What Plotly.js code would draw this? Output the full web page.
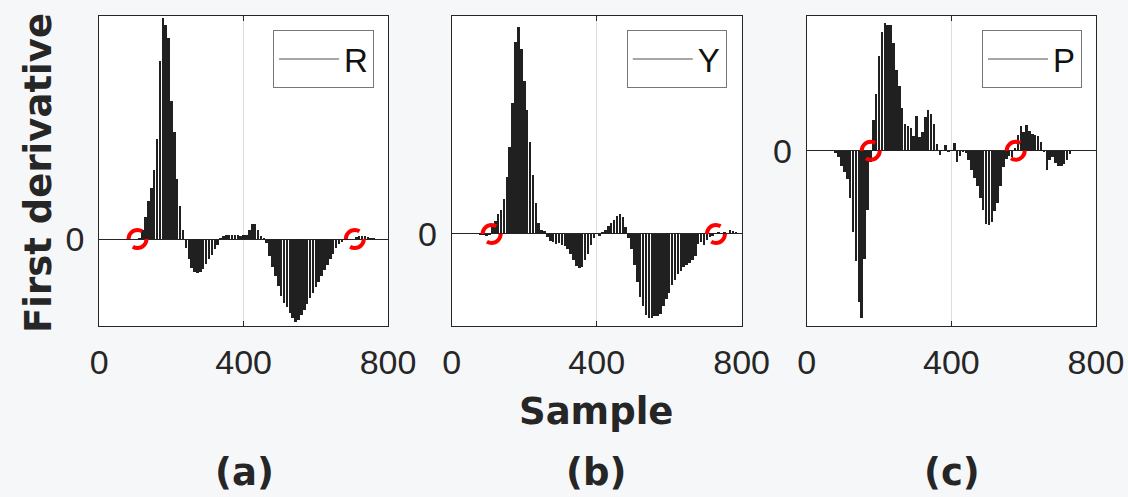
<!DOCTYPE html>
<html>
<head>
<meta charset="utf-8">
<script src="https://cdn.plot.ly/plotly-3.0.1.min.js"></script>
<style>
html,body{margin:0;padding:0;background:#f6f7f9;}
#chart{width:1128px;height:497px;}
</style>
</head>
<body>
<div id="chart"></div>
<script>
// Sample index (x axis)
const samples = [0,8,16,24,32,40,48,56,64,72,80,88,96,104,112,120,128,136,144,152,160,168,176,184,192,200,208,216,224,232,240,248,256,264,272,280,288,296,304,312,320,328,336,344,352,360,368,376,384,392,400,408,416,424,432,440,448,456,464,472,480,488,496,504,512,520,528,536,544,552,560,568,576,584,592,600,608,616,624,632,640,648,656,664,672,680,688,696,704,712,720,728,736,744,752,760,768,776,784,792];

// First derivative, panel (a) R
const derivR = [0,0,0,0.1,0,0,-0.1,0,0,-0.2,-0.2,-0.4,-0.6,-0.3,0.6,4,10,17,23,31,45,80,99,96,90,62,48,27,15,4,-4,-9,-13,-15,-15.3,-14.8,-13.5,-11,-9,-7,-4.5,-2.5,0.6,1.5,1.8,1.8,2,1.8,1.7,1.5,1.8,2,4,6.8,6.8,4,1.5,0.3,-2,-7.8,-12.5,-16.5,-21,-25.5,-28.5,-30.5,-33,-35.5,-37,-36.5,-34,-32,-29,-26.5,-24,-21.5,-19.3,-16.5,-14,-11.5,-9,-6.5,-4,-2.2,-1.2,-0.6,-0.3,-0.2,0.2,0.8,1.2,1.5,1.3,1,0.6,0.4,0.2,0.1,0,0];

// First derivative, panel (b) Y
const derivY = [0,0,0,0.1,0,0,-0.1,0,0,0,-0.3,-0.5,-0.8,-0.4,3,6,9,11,16,26,40,60,88,95,85,70,57,42,27,14,5,2,1.5,-1.5,-3,-3.8,-4.5,-4.3,-5,-5.5,-7,-9,-12,-14.5,-15.7,-15,-12,-9,-5,-2,0.5,-0.8,1,2,3.5,5,6.5,8.2,9.2,8,3,-2,-7,-14,-22,-28.7,-33,-37,-38.7,-38.5,-37.8,-37.5,-36.5,-33,-30,-27,-23.5,-21,-18.5,-17,-15,-14,-13.5,-12,-10,-4.5,-3.5,-5,-2.8,-1.5,-0.8,0.3,0.8,0.6,1,0.5,1.8,1.2,0.8,0.3];

// First derivative, panel (c) P
const derivP = [0,0,0,0,0,0,0,-0.2,-0.3,-0.5,-1.5,-4.5,-11,-16,-21,-35,-60,-82,-112,-124,-80,-44,-8,23,42,70,88,95,93,93,80,60,48,32,20,18,17,11,26,10,14,25,30,27,20,5,-3,0.5,4,-1,0.5,6,-8,-4,-1,-2,-7,-14,-20,-26,-35,-44,-54,-55,-53,-45,-39,-26,-12,-6,-4,-5,2,12,18,14,19,15,12.5,11.5,11,6.5,-1,-14,-7,-4.5,-9,-11,-11.4,-10,-7,-2.5,0.5,-0.3,-0.5,-0.3,-0.5,-0.3,-0.2,0];

// Zero crossings (sample index)
const crossR = [106, 708];
const crossY = [110, 729];
const crossP = [177, 578];

const seriesNames = ['R', 'Y', 'P'];
const panelLabels = ['(a)', '(b)', '(c)'];
const xTicks = [0, 400, 800];
const xTickText = ['0', '400', '800'];
const yRanges = [[-39, 100], [-42.2, 100], [-130, 100]];

const allDeriv = [derivR, derivY, derivP];
const allCross = [crossR, crossY, crossP];

const xDomains = [[0.0880, 0.3440], [0.4005, 0.6575], [0.7152, 0.9716]];
const yDomain = [0.344, 0.968];
const legendX = [0.3316, 0.6443, 0.9592];
const labelX = [244, 596, 952];

const tickFont = {family: 'Liberation Sans, Arial, sans-serif', size: 34, color: '#262626'};
const boldFont = {family: 'DejaVu Sans, sans-serif', size: 37, color: '#262626', weight: 700};

const traces = [];
const shapes = [];
const annotations = [];
const layout = {
  width: 1128, height: 497,
  margin: {l: 0, r: 0, t: 0, b: 0},
  paper_bgcolor: '#f6f7f9',
  plot_bgcolor: '#ffffff',
  bargap: 0,
  barmode: 'overlay',
  showlegend: true
};

for (let i = 0; i < 3; i++) {
  const sfx = i === 0 ? '' : String(i + 1);
  const xa = 'x' + sfx, ya = 'y' + sfx;
  const legendId = 'legend' + sfx;
  traces.push({
    type: 'bar', x: samples, y: allDeriv[i],
    xaxis: xa, yaxis: ya, width: 7,
    marker: {color: '#202020', line: {width: 0}},
    showlegend: false, hoverinfo: 'x+y'
  });
  traces.push({
    type: 'scatter', mode: 'lines', x: [null], y: [null],
    xaxis: xa, yaxis: ya, name: seriesNames[i],
    line: {color: '#8a8a8a', width: 1.5},
    legend: legendId, showlegend: true
  });
  layout['xaxis' + sfx] = {
    domain: xDomains[i], anchor: ya, range: [0, 800],
    tickvals: xTicks, ticktext: xTickText,
    ticks: 'inside', ticklen: 5, tickcolor: '#262626',
    showline: true, mirror: 'ticks', linecolor: '#262626', linewidth: 1,
    showgrid: true, gridcolor: '#dedede', gridwidth: 1,
    zeroline: false, tickfont: tickFont, ticklabelstandoff: 6
  };
  layout['yaxis' + sfx] = {
    domain: yDomain, anchor: xa, range: yRanges[i],
    tickvals: [0], ticktext: ['0'],
    ticks: 'inside', ticklen: 5, tickcolor: '#262626',
    showline: true, mirror: 'ticks', linecolor: '#262626', linewidth: 1,
    showgrid: false, zeroline: true, zerolinecolor: '#262626', zerolinewidth: 1,
    tickfont: tickFont, ticklabelstandoff: 7
  };
  layout[legendId] = {
    x: legendX[i], xanchor: 'right', y: 0.9396, yanchor: 'top',
    bgcolor: '#ffffff', bordercolor: '#777777', borderwidth: 1,
    font: {family: 'Liberation Sans, Arial, sans-serif', size: 33, color: '#111111'},
    itemwidth: 60
  };
  allCross[i].forEach(function (c) {
    shapes.push({
      type: 'circle', xref: xa, yref: ya,
      xsizemode: 'pixel', ysizemode: 'pixel',
      xanchor: c, yanchor: 0,
      x0: -9, x1: 9, y0: -9, y1: 9,
      line: {color: '#ff0000', width: 4, dash: '19px,9px'}
    });
  });
  annotations.push({
    text: panelLabels[i], xref: 'paper', yref: 'paper',
    x: labelX[i] / 1128, y: 1 - 472 / 497,
    xanchor: 'center', yanchor: 'middle', showarrow: false,
    font: boldFont
  });
}

annotations.push({
  text: 'Sample', xref: 'paper', yref: 'paper',
  x: 596 / 1128, y: 1 - 411 / 497, xanchor: 'center', yanchor: 'middle',
  showarrow: false, font: boldFont
});
annotations.push({
  text: 'First derivative', xref: 'paper', yref: 'paper',
  x: 39 / 1128, y: 1 - 173 / 497, xanchor: 'center', yanchor: 'middle',
  textangle: -90, showarrow: false,
  font: {family: 'DejaVu Sans, sans-serif', size: 37, color: '#262626', weight: 700}
});

layout.shapes = shapes;
layout.annotations = annotations;

Plotly.newPlot('chart', traces, layout, {displayModeBar: false, staticPlot: true});
</script>
</body>
</html>
